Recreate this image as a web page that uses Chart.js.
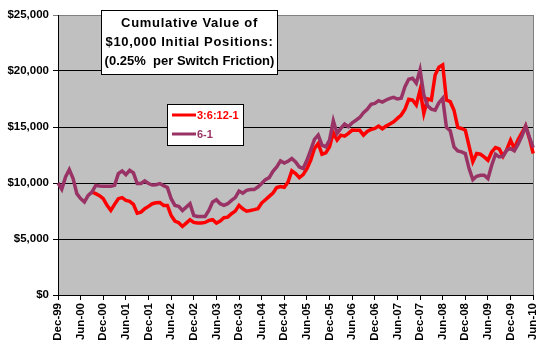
<!DOCTYPE html>
<html>
<head>
<meta charset="utf-8">
<script src="https://cdn.jsdelivr.net/npm/chart.js@4.4.1/dist/chart.umd.min.js"></script>
<style>
  html, body { margin: 0; padding: 0; background: #fff; }
  #wrap { width: 550px; height: 350px; position: relative; }
</style>
</head>
<body>
<div id="wrap"><canvas id="myChart"></canvas></div>
<script>
// monthly points, Dec-99 .. Jun-10
var monthNames = ['Jan', 'Feb', 'Mar', 'Apr', 'May', 'Jun', 'Jul', 'Aug', 'Sep', 'Oct', 'Nov', 'Dec'];
var labels = [];
for (var i = 0; i < 127; i++) {
    var m = (11 + i) % 12;
    var y = (1999 + Math.floor((11 + i) / 12)) % 100;
    labels.push(monthNames[m] + '-' + (y < 10 ? '0' + y : '' + y));
}

var seriesNames = ['3:6:12-1', '6-1'];
var seriesColors = ['#ff0000', '#993366'];

// 3:6:12-1 (starts Sep-00)
var values3612 = [
    null, null, null, null, null, null, null, null, null, 9190,
    9050, 8870, 8600, 8000, 7550, 8090, 8600, 8690, 8450, 8360,
    8090, 7310, 7400, 7700, 7910, 8150, 8240, 8260, 8000, 8000,
    7100, 6600, 6450, 6120, 6420, 6720, 6480, 6420, 6420, 6480,
    6660, 6720, 6420, 6600, 6900, 6950, 7260, 7490, 8000, 7700,
    7490, 7550, 7620, 7700, 8210, 8510, 8810, 9100, 9590, 9680,
    9620, 10090, 11080, 10840, 10480, 10750, 11290, 12030, 13080, 13530,
    12570, 12690, 13230, 14480, 13830, 14270, 14180, 14430, 14720, 14700,
    14700, 14270, 14600, 14780, 14870, 15080, 14840, 15080, 15260, 15460,
    15770, 16070, 16580, 17470, 17410, 16960, 18300, 16220, 17500, 17410,
    19650, 20340, 20550, 17410, 17260, 16500, 14960, 14870, 14720, 13300,
    11900, 12630, 12570, 12330, 12030, 12780, 13170, 13050, 12390, 12990,
    13830, 13080, 13890, 14480, 15080, 13980, 12630
];

// 6-1
var values61 = [
    10000, 9450, 10540, 11200, 10390, 9050, 8600, 8300, 8900, 9190,
    9790, 9730, 9700, 9700, 9700, 9790, 10840, 11080, 10750, 11140,
    10900, 9950, 9950, 10180, 9950, 9820, 9850, 9950, 9770, 9600,
    8600, 8000, 7910, 7550, 7850, 8150, 7100, 7020, 7020, 7020,
    7550, 8300, 8510, 8150, 8000, 8150, 8450, 8690, 9280, 9100,
    9340, 9410, 9410, 9640, 9950, 10300, 10480, 11050, 11430, 11970,
    11790, 11940, 12190, 11880, 11430, 11290, 12030, 12930, 13890, 14270,
    13380, 13230, 13830, 15550, 14430, 14870, 15260, 15020, 15380, 15600,
    15850, 16270, 16580, 17020, 17110, 17350, 17230, 17410, 17560, 17650,
    17500, 17560, 18600, 19260, 19350, 18910, 20100, 17860, 16900, 16600,
    16510, 17170, 17560, 14960, 14660, 13230, 12870, 12780, 12630, 11290,
    10300, 10600, 10690, 10690, 10390, 11580, 12570, 12330, 12390, 12930,
    13080, 12870, 13470, 14180, 15080, 14070, 13170
];

var yTicks = [0, 5000, 10000, 15000, 20000, 25000];
var titleLines = ['Cumulative Value of', '$10,000 Initial Positions:', '(0.25%  per Switch Friction)'];
var titleSpacing = ['0.7px', '0.65px', '0px'];

var fontFamily = '"Liberation Sans", Arial, sans-serif';

var boxes = {
    id: 'boxes',
    beforeDraw: function(chart) {
        var a = chart.chartArea, ctx = chart.ctx;
        ctx.save();
        ctx.fillStyle = '#c0c0c0';
        ctx.fillRect(a.left, a.top, a.right - a.left, a.bottom - a.top);
        ctx.restore();
    },
    beforeDatasetsDraw: function(chart) {
        var a = chart.chartArea, ctx = chart.ctx;
        ctx.save();
        ctx.strokeStyle = '#808080';
        ctx.lineWidth = 1;
        ctx.beginPath();
        ctx.moveTo(Math.round(a.right) + 0.5, a.top);
        ctx.lineTo(Math.round(a.right) + 0.5, a.bottom);
        ctx.stroke();
        ctx.restore();
    },
    afterDraw: function(chart) {
        var ctx = chart.ctx;
        ctx.save();
        // title box
        ctx.fillStyle = '#fff';
        ctx.fillRect(101, 10, 176, 64);
        ctx.strokeStyle = '#000';
        ctx.lineWidth = 1;
        ctx.strokeRect(101.5, 10.5, 176, 64);
        ctx.fillStyle = '#000';
        ctx.font = 'bold 13px ' + fontFamily;
        ctx.textAlign = 'center';
        ctx.textBaseline = 'middle';
        titleLines.forEach(function(t, k) {
            ctx.letterSpacing = titleSpacing[k];
            ctx.fillText(t, 189.5, 23 + k * 19);
        });
        ctx.letterSpacing = '0px';
        // legend box
        ctx.fillStyle = '#fff';
        ctx.fillRect(167, 104, 76, 41);
        ctx.strokeRect(167.5, 104.5, 76, 41);
        ctx.font = 'bold 11px ' + fontFamily;
        ctx.textAlign = 'left';
        chart.data.datasets.forEach(function(ds, k) {
            var yy = 115 + k * 19;
            ctx.strokeStyle = ds.borderColor;
            ctx.lineWidth = 3;
            ctx.beginPath();
            ctx.moveTo(172, yy);
            ctx.lineTo(196, yy);
            ctx.stroke();
            ctx.fillStyle = ds.borderColor;
            ctx.fillText(ds.label, 197, yy + 0.5);
        });
        ctx.restore();
    }
};

var ctx = document.getElementById('myChart');
var chart = new Chart(ctx, {
    type: 'line',
    data: {
        labels: labels,
        datasets: [
            {
                label: seriesNames[0],
                data: values3612,
                borderColor: seriesColors[0],
                borderWidth: 3.5,
                pointRadius: 0,
                tension: 0,
                fill: false,
                order: 1
            },
            {
                label: seriesNames[1],
                data: values61,
                borderColor: seriesColors[1],
                borderWidth: 3.5,
                pointRadius: 0,
                tension: 0,
                fill: false,
                order: 0
            }
        ]
    },
    options: {
        responsive: true,
        maintainAspectRatio: false,
        animation: false,
        layout: { padding: { top: 15, right: 13, left: 0, bottom: 0 } },
        plugins: {
            legend: { display: false },
            tooltip: { enabled: false },
            title: { display: false }
        },
        scales: {
            x: {
                offset: false,
                afterFit: function(scale) { scale.height = 55; },
                border: { display: true, color: '#000', width: 1 },
                grid: {
                    drawOnChartArea: false,
                    drawTicks: true,
                    tickLength: 5,
                    color: '#000'
                },
                ticks: {
                    autoSkip: false,
                    minRotation: 90,
                    maxRotation: 90,
                    padding: 3,
                    color: '#000',
                    font: { family: fontFamily, size: 11.5, weight: 'bold' },
                    callback: function(value, index) {
                        return index % 6 === 0 ? this.getLabelForValue(value) : null;
                    }
                }
            },
            y: {
                min: yTicks[0],
                max: yTicks[yTicks.length - 1],
                afterFit: function(scale) { scale.width = 58; },
                afterBuildTicks: function(scale) {
                    scale.ticks = yTicks.map(function(v) { return { value: v }; });
                },
                border: { display: true, color: '#000', width: 1 },
                grid: {
                    tickLength: 5,
                    color: function(c) {
                        return c.tick && c.tick.value === 25000 ? '#808080' : '#000';
                    }
                },
                ticks: {
                    padding: 4,
                    color: '#000',
                    font: { family: fontFamily, size: 11.5, weight: 'bold' },
                    callback: function(value) {
                        return '$' + value.toLocaleString('en-US');
                    }
                }
            }
        }
    },
    plugins: [boxes]
});
</script>
</body>
</html>
